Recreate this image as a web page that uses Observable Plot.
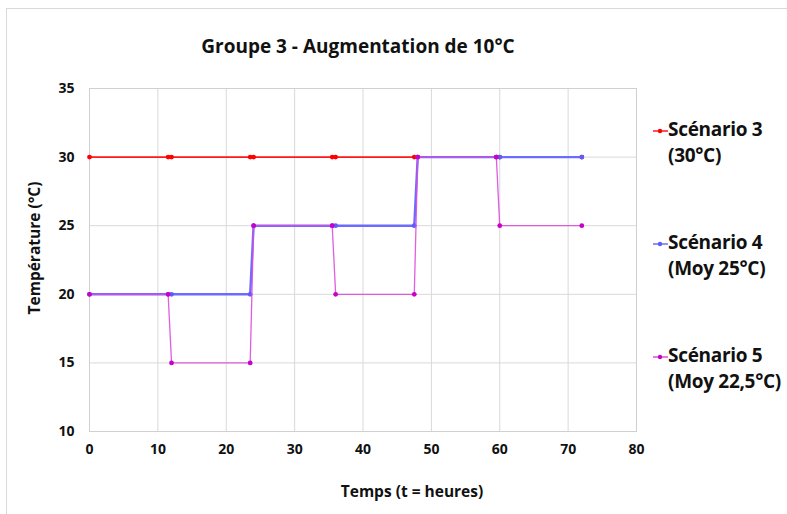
<!DOCTYPE html>
<html><head><meta charset="utf-8">
<script src="https://cdn.jsdelivr.net/npm/d3@7"></script>
<script src="https://cdn.jsdelivr.net/npm/@observablehq/plot@0.6"></script>
<style>
body{margin:0;background:#fff;font-family:"Open Sans",sans-serif;}
#wrap{position:relative;width:787px;height:514px;overflow:hidden;}
#frame{position:absolute;left:6px;top:8px;width:790px;height:520px;border:1px solid #d9d9d9;box-sizing:border-box;}
#title{position:absolute;left:0;width:716px;top:33px;text-align:center;font-weight:bold;font-size:19px;color:#111;}
#xlab{position:absolute;left:262px;width:300px;top:480px;text-align:center;font-weight:bold;font-size:15.5px;color:#111;}
#ylab{position:absolute;left:34px;top:248px;transform:translate(-50%,-50%) rotate(-90deg);white-space:nowrap;font-weight:bold;font-size:15.5px;color:#111;}
.leg{position:absolute;left:652px;font-weight:bold;font-size:19px;letter-spacing:-0.3px;line-height:26px;color:#111;white-space:nowrap;}
.leg svg{vertical-align:middle;margin-right:0px;}
#chart{position:absolute;left:0;top:0;}
</style></head>
<body><div id="wrap"><div id="frame"></div><div id="chart"></div><div id="title"></div><div id="xlab"></div><div id="ylab"></div><div id="legend"></div></div>
<script>
const titleText = "Groupe 3 - Augmentation de 10°C";
const xLabel = "Temps (t = heures)";
const yLabel = "Température (°C)";
const hours = [0, 11.5, 12, 23.5, 24, 35.5, 36, 47.5, 48, 59.5, 60, 72];
const scen3 = [30, 30, 30, 30, 30, 30, 30, 30, 30, 30, 30, 30];
const scen4 = [20, 20, 20, 20, 25, 25, 25, 25, 30, 30, 30, 30];
const scen5 = [20, 20, 15, 15, 25, 25, 20, 20, 30, 30, 25, 25];
const seriesNames = [["Scénario 3", "(30°C)"], ["Scénario 4", "(Moy 25°C)"], ["Scénario 5", "(Moy 22,5°C)"]];
const xTicks = [0, 10, 20, 30, 40, 50, 60, 70, 80];
const yTicks = [10, 15, 20, 25, 30, 35];

const lineColors = ["#ff1a1a", "#6b6bff", "#dd4ddd"];
const dotColors = ["#ff0000", "#5c5cff", "#c800c8"];
const lineWidths = [1.8, 2.4, 1.3];
const legendTops = [116, 229, 342];

const allSeries = [scen3, scen4, scen5];
const tables = allSeries.map(s => hours.map((h, i) => ({h, v: s[i]})));

const marks = [
  Plot.gridX(xTicks, {stroke: "#d9d9d9", strokeOpacity: 1, strokeWidth: 1}),
  Plot.gridY(yTicks, {stroke: "#d9d9d9", strokeOpacity: 1, strokeWidth: 1}),
  Plot.frame({stroke: "#d0d0d0"})
];
tables.forEach((t, k) => {
  marks.push(Plot.line(t, {x: "h", y: "v", stroke: lineColors[k], strokeWidth: lineWidths[k], strokeOpacity: k === 2 ? 0.9 : 1}));
  marks.push(Plot.dot(t, {x: "h", y: "v", fill: dotColors[k], r: 2.4, stroke: "none"}));
});
marks.push(Plot.axisX({ticks: xTicks, tickSize: 0, tickPadding: 13, label: null, fontSize: 14, fontWeight: "bold"}));
marks.push(Plot.axisY({ticks: yTicks, tickSize: 0, tickPadding: 15, label: null, fontSize: 14, fontWeight: "bold"}));

const chart = Plot.plot({
  width: 787, height: 514,
  marginLeft: 89, marginRight: 151, marginTop: 88, marginBottom: 83,
  x: {domain: [0, 80]},
  y: {domain: [10, 35]},
  style: {fontFamily: "'Open Sans', sans-serif", fontSize: "14px", fontWeight: "bold", color: "#111", background: "transparent"},
  marks
});
document.getElementById("chart").appendChild(chart);
document.getElementById("title").textContent = titleText;
document.getElementById("xlab").textContent = xLabel;
document.getElementById("ylab").textContent = yLabel;

const leg = document.getElementById("legend");
seriesNames.forEach((n, k) => {
  const d = document.createElement("div");
  d.className = "leg";
  d.style.top = legendTops[k] + "px";
  d.innerHTML = `<svg width="16" height="8"><line x1="1" y1="4" x2="16" y2="4" stroke="${lineColors[k]}" stroke-width="1.5"/><circle cx="8" cy="4" r="2.2" fill="${dotColors[k]}"/></svg>${n[0]}<br><span style="margin-left:16px">${n[1]}</span>`;
  leg.appendChild(d);
});
</script></body></html>
